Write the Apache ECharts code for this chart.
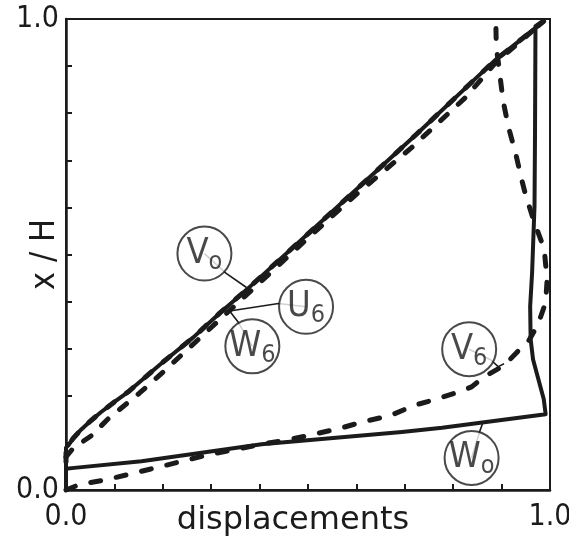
<!DOCTYPE html>
<html>
<head>
<meta charset="utf-8">
<script src="https://cdn.jsdelivr.net/npm/echarts@6/dist/echarts.min.js"></script>
<style>
html,body{margin:0;padding:0;background:#fff;}
#c{width:569px;height:544px;}
</style>
</head>
<body>
<div id="c"></div>
<script>
// ---- data (x = displacement, y = x/H) ----
const V0 = [[0,0],[0,0.09],[0.005,0.095],[0.015,0.11],[0.031,0.128],[0.05,0.146],[0.072,0.165],[0.1,0.187],[0.128,0.208],[0.195,0.267],[0.263,0.324],[0.318,0.376],[0.374,0.426],[0.53,0.572],[0.728,0.759],[0.885,0.911],[0.987,0.995]];
const W0 = [[0,0],[0,0.045],[0.017,0.047],[0.156,0.061],[0.404,0.097],[0.694,0.123],[0.777,0.132],[0.991,0.161],[0.987,0.193],[0.976,0.235],[0.965,0.277],[0.96,0.32],[0.959,0.39],[0.963,0.461],[0.968,0.603],[0.969,0.75],[0.97,0.985],[0.987,0.997]];
const U6 = [[0,0.06],[0,0.09],[0.005,0.095],[0.015,0.11],[0.031,0.128],[0.05,0.146],[0.072,0.165],[0.1,0.187],[0.128,0.208],[0.195,0.267],[0.263,0.324],[0.318,0.376],[0.374,0.426],[0.53,0.572],[0.728,0.759],[0.885,0.911],[0.987,0.995]];
const W6 = [[0,0.07],[0.015,0.089],[0.052,0.115],[0.087,0.151],[0.151,0.205],[0.2,0.25],[0.3,0.345],[0.4,0.44],[0.5,0.535],[0.598,0.626],[0.714,0.727],[0.824,0.832],[0.885,0.904],[0.93,0.945],[0.987,0.995]];
const V6 = [[0,0],[0.026,0.011],[0.079,0.021],[0.125,0.032],[0.173,0.044],[0.232,0.059],[0.294,0.075],[0.36,0.088],[0.414,0.099],[0.456,0.106],[0.511,0.118],[0.566,0.131],[0.618,0.146],[0.67,0.158],[0.72,0.18],[0.762,0.192],[0.817,0.21],[0.838,0.219],[0.865,0.241],[0.906,0.265],[0.934,0.295],[0.951,0.308],[0.975,0.351],[0.991,0.398],[0.994,0.446],[0.988,0.512],[0.968,0.567],[0.95,0.625],[0.94,0.665],[0.929,0.715],[0.914,0.771],[0.903,0.827],[0.893,0.91],[0.889,0.94],[0.888,1.0]];

// tick labels shown on both axes
const tickValues = [0, 1];
const tickTexts = ['0.0', '1.0'];

// curve annotations: circle centres and leader paths
const annNames = ['V0', 'U6', 'W6', 'V6', 'W0'];
const annMain  = ['V', 'U', 'W', 'V', 'W'];
const annSub   = ['o', '6', '6', '6', 'o'];
const annPos   = [[0.286,0.502],[0.496,0.389],[0.385,0.305],[0.833,0.299],[0.838,0.068]];
const leaderV0 = [[0.286,0.502],[0.331,0.46],[0.373,0.43]];
const leaderU6 = [[0.496,0.389],[0.439,0.396],[0.338,0.38]];
const leaderW6 = [[0.385,0.305],[0.356,0.356],[0.338,0.38]];
const leaderV6 = [[0.833,0.299],[0.878,0.276],[0.893,0.262],[0.905,0.268]];
const leaderW0 = [[0.838,0.068],[0.855,0.125],[0.862,0.145]];

const INK = '#1b1b1b';
const FONT = "'DejaVu Sans Condensed','Liberation Sans Narrow','DejaVu Sans',sans-serif";
const NFONT = "'DejaVu Sans','Liberation Sans',sans-serif";

function tickFmt(v){
  const i = tickValues.findIndex(t => Math.abs(t - v) < 1e-9);
  return i >= 0 ? tickTexts[i] : '';
}

const solid = (name, data) => ({
  name, type: 'line', data, symbol: 'none', clip: false, z: 3,
  lineStyle: { color: INK, width: 4, cap: 'round', join: 'round' }
});
const dashed = (name, data, dash) => ({
  name, type: 'line', data, symbol: 'none', clip: false, z: 4,
  lineStyle: { color: INK, width: 5, type: dash, cap: 'round', join: 'round' }
});
const leader = (data) => ({
  type: 'line', data, symbol: 'none', clip: false, z: 5, silent: true,
  lineStyle: { color: INK, width: 1.6 }
});

const chart = echarts.init(document.getElementById('c'), null, { renderer: 'canvas' });
chart.setOption({
  animation: false,
  backgroundColor: '#fff',
  grid: { left: 66, right: 19, top: 19, bottom: 54, show: true, borderColor: INK, borderWidth: 2, containLabel: false, outerBoundsMode: 'none' },
  xAxis: {
    type: 'value', min: 0, max: 1, interval: 0.1,
    name: 'displacements', nameLocation: 'middle', nameGap: 15, nameMoveOverlap: false,
    nameTextStyle: { fontFamily: NFONT, fontSize: 32, color: INK, verticalAlign: 'top', padding: [0, 30, 0, 0] },
    axisLine: { show: true, lineStyle: { color: INK, width: 2.5 } },
    axisTick: { show: true, inside: true, length: 6, lineStyle: { color: INK, width: 2 } },
    axisLabel: { formatter: tickFmt, fontFamily: FONT, fontSize: 30, color: INK, margin: 12, showMinLabel: true, showMaxLabel: true },
    splitLine: { show: false }
  },
  yAxis: {
    type: 'value', min: 0, max: 1, interval: 0.1,
    name: 'x / H', nameLocation: 'middle', nameGap: 4, nameRotate: 90, nameMoveOverlap: false,
    nameTextStyle: { fontFamily: FONT, fontSize: 34, color: INK, verticalAlign: 'bottom' },
    axisLine: { show: true, lineStyle: { color: INK, width: 2.5 } },
    axisTick: { show: true, inside: true, length: 6, lineStyle: { color: INK, width: 2 } },
    axisLabel: { formatter: tickFmt, fontFamily: FONT, fontSize: 30, color: INK, margin: 7, showMinLabel: true, showMaxLabel: true },
    splitLine: { show: false }
  },
  series: [
    solid('V0', V0),
    solid('W0', W0),
    dashed('U6', U6, [9, 15]),
    dashed('W6', W6, [9, 15]),
    dashed('V6', V6, [10, 16]),
    leader(leaderV0), leader(leaderU6), leader(leaderW6), leader(leaderV6), leader(leaderW0),
    {
      type: 'scatter', z: 10, silent: true, clip: false,
      symbol: 'circle', symbolSize: 54,
      itemStyle: { color: '#fff', borderColor: INK, borderWidth: 2 },
      data: annPos.map((p, i) => ({ value: p, name: annNames[i], main: annMain[i], sub: annSub[i] })),
      label: {
        show: true, position: 'inside',
        formatter: p => '{v|' + p.data.main + '}{s|' + p.data.sub + '}',
        rich: {
          v: { fontFamily: FONT, fontSize: 36, lineHeight: 36, color: INK },
          s: { fontFamily: FONT, fontSize: 25, lineHeight: 22, color: INK, padding: [18, 0, 0, 0] }
        }
      }
    }
  ]
});
</script>
</body>
</html>
